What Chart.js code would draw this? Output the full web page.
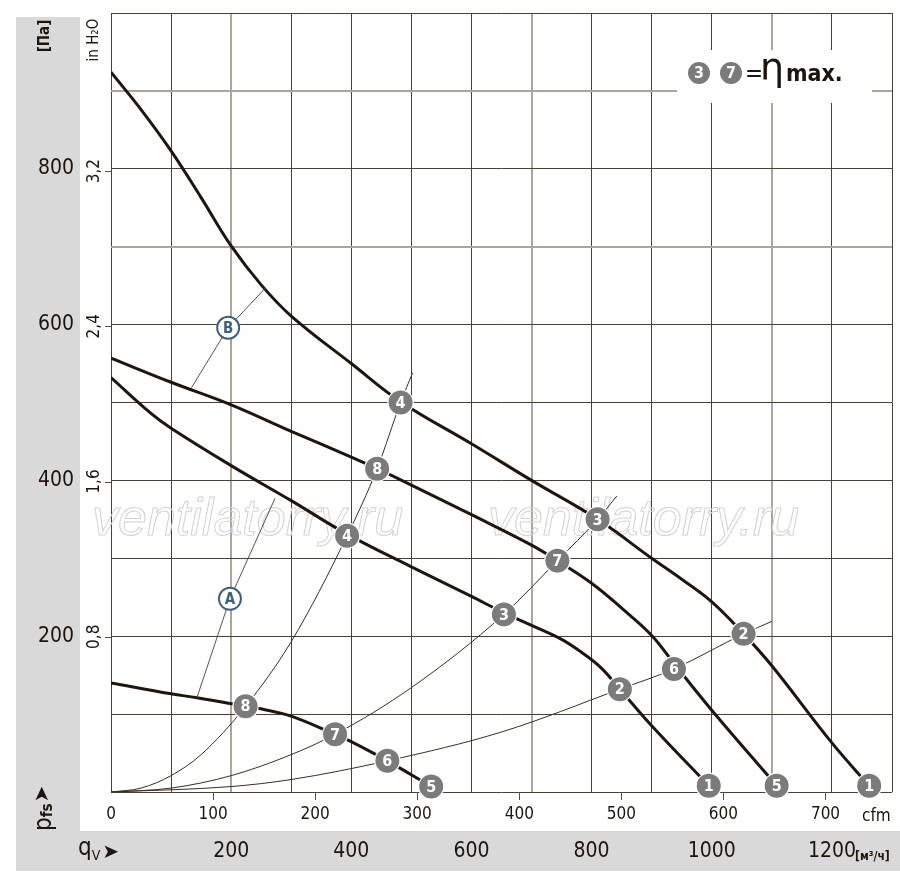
<!DOCTYPE html>
<html>
<head>
<meta charset="utf-8">
<script src="https://cdn.jsdelivr.net/npm/chart.js@4.4.1/dist/chart.umd.min.js"></script>
<style>
  html, body { margin: 0; padding: 0; background: #fff; }
  #wrap { width: 900px; height: 876px; }
</style>
</head>
<body>
<div id="wrap"><canvas id="fanChart" width="900" height="876"></canvas></div>
<script>
// airflow q in m3/h, static pressure p in Pa
var topCurveQ = [0, 50, 100, 150, 200, 250, 300, 400, 482, 600, 700, 810, 900, 950, 1000, 1053, 1100, 1200, 1262];
var topCurveP = [924, 876, 823, 763, 701, 651, 611, 550, 501, 447, 400, 350, 300, 273, 244, 203, 162, 63, 8];

var midCurveQ = [0, 100, 200, 300, 400, 443, 500, 600, 700, 743, 800, 850, 900, 937, 1000, 1108];
var midCurveP = [557, 526, 497, 463, 430, 415, 394, 356, 317, 297, 268, 236, 201, 165, 105, 8];

var lowCurveQ = [0, 65, 100, 200, 300, 393, 500, 600, 654, 700, 750, 782, 815, 847, 900, 995];
var lowCurveP = [532, 487, 467, 419, 374, 331, 289, 251, 230, 214, 196, 180, 160, 132, 85, 8];

var smallCurveQ = [0, 100, 143, 224, 260, 301, 373, 399, 460, 533];
var smallCurveP = [140, 126, 121, 110, 105, 97, 74, 65, 40, 7];

// system resistance lines
var sys8Q = [0, 50, 100, 150, 224, 300, 393, 443, 482, 502];
var sys8P = [0, 5, 21, 48, 110, 193, 329, 415, 500, 538];
var sys7Q = [0, 100, 200, 300, 373, 500, 654, 743, 810, 842];
var sys7P = [0, 5, 21, 48, 74, 134, 228, 297, 350, 380];
var sys6Q = [0, 200, 300, 460, 650, 847, 937, 1053, 1100];
var sys6P = [0, 7, 16, 40, 77, 132, 158, 203, 219];

// pointer lines A and B
var lineAQ = [143, 198, 273];
var lineAP = [121, 248, 377];
var lineBQ = [134, 195, 257];
var lineBP = [519, 596, 647];
var tagQ = [198, 195];
var tagP = [248, 596];
var tagText = ['A', 'B'];

// numbered operating points
var markerQ = [482, 810, 1053, 1262, 443, 743, 937, 1108, 393, 654, 847, 995, 224, 373, 460, 533];
var markerP = [500, 350, 203, 8, 415, 297, 158, 8, 329, 228, 132, 8, 110, 74, 40, 7];
var markerNum = ['4', '3', '2', '1', '8', '7', '6', '5', '4', '3', '2', '1', '8', '7', '6', '5'];

// axis labels
var paTicks = [200, 400, 600, 800];
var inH2OTicks = [0.8, 1.6, 2.4, 3.2];
var inH2OText = ['0,8', '1,6', '2,4', '3,2'];
var cfmTicks = [0, 100, 200, 300, 400, 500, 600, 700];
var m3hTicks = [200, 400, 600, 800, 1000, 1200];

var lightQ = [200, 700, 1100];
var lightP = [700, 900];

var FONT = '"Liberation Sans Narrow", "DejaVu Sans Condensed", "Liberation Sans", sans-serif';
function fnt(size, bold) {
  return (bold ? 'bold ' : '') + size + 'px ' + FONT;
}

function pts(qs, ps) {
  var out = [];
  for (var i = 0; i < qs.length; i++) out.push({x: qs[i], y: ps[i]});
  return out;
}

function thick(qs, ps) {
  return { data: pts(qs, ps), borderColor: '#21150b', borderWidth: 3, pointRadius: 0,
           showLine: true, tension: 0.4, fill: false };
}
function thin(qs, ps, col, smooth) {
  return { data: pts(qs, ps), borderColor: col, borderWidth: 1, pointRadius: 0,
           showLine: true, cubicInterpolationMode: smooth ? 'monotone' : 'default', tension: 0, fill: false };
}

function grayBall(ctx, x, y, txt, r) {
  ctx.beginPath();
  ctx.arc(x, y, r + 1.2, 0, Math.PI * 2);
  ctx.fillStyle = '#ffffff';
  ctx.fill();
  ctx.beginPath();
  ctx.arc(x, y, r, 0, Math.PI * 2);
  ctx.fillStyle = '#7b7b7b';
  ctx.fill();
  ctx.fillStyle = '#ffffff';
  ctx.font = fnt(16, true);
  ctx.textAlign = 'center';
  ctx.textBaseline = 'middle';
  ctx.fillText(txt, x, y + 1);
}

var decor = {
  id: 'decor',
  beforeDraw: function(chart) {
    var ctx = chart.ctx;
    var xs = chart.scales.x, ys = chart.scales.y;
    ctx.save();
    ctx.fillStyle = '#ffffff';
    ctx.fillRect(0, 0, chart.width, chart.height);
    ctx.fillStyle = '#d9d9d9';
    ctx.fillRect(16, 17, 64, 814);
    ctx.fillRect(16, 831, 884, 40);

    ctx.fillStyle = '#1d140c';
    // Pa labels
    ctx.font = fnt(21);
    ctx.textAlign = 'right';
    ctx.textBaseline = 'middle';
    paTicks.forEach(function(v) {
      ctx.fillText(String(v), 74, ys.getPixelForValue(v));
    });
    // in H2O labels, rotated
    ctx.font = fnt(17);
    ctx.textAlign = 'center';
    inH2OTicks.forEach(function(v, i) {
      ctx.save();
      ctx.translate(95, ys.getPixelForValue(v * 249.09));
      ctx.rotate(-Math.PI / 2);
      ctx.fillText(inH2OText[i], 0, 0);
      ctx.restore();
    });
    // unit captions
    ctx.save();
    ctx.translate(45, 36);
    ctx.rotate(-Math.PI / 2);
    ctx.font = fnt(15, true);
    ctx.fillText('[Па]', 0, 0);
    ctx.restore();
    ctx.save();
    ctx.translate(94, 40);
    ctx.rotate(-Math.PI / 2);
    ctx.font = fnt(15);
    ctx.fillText('in H\u2082O', 0, 0);
    ctx.restore();

    // p_fs with arrow
    ctx.save();
    ctx.translate(51, 831);
    ctx.rotate(-Math.PI / 2);
    ctx.textAlign = 'left';
    ctx.textBaseline = 'alphabetic';
    ctx.font = fnt(24);
    ctx.fillText('p', 0, 0);
    var w = ctx.measureText('p').width;
    ctx.font = fnt(15, true);
    ctx.fillText('fs', w, 1);
    w += ctx.measureText('fs').width + 1;
    ctx.font = '20px "DejaVu Sans", sans-serif';
    ctx.fillText('\u27A4', w, -3);
    ctx.restore();

    // q_V with arrow
    ctx.textAlign = 'left';
    ctx.textBaseline = 'alphabetic';
    ctx.font = fnt(24);
    ctx.fillText('q', 78, 855);
    var qw = ctx.measureText('q').width;
    ctx.font = fnt(14);
    ctx.fillText('V', 78 + qw, 860);
    var vw = ctx.measureText('V').width;
    ctx.font = '20px "DejaVu Sans", sans-serif';
    ctx.fillText('\u27A4', 80 + qw + vw, 858);

    // m3/h labels
    ctx.font = fnt(21);
    ctx.textAlign = 'center';
    ctx.textBaseline = 'middle';
    m3hTicks.forEach(function(v) {
      ctx.fillText(String(v), xs.getPixelForValue(v), 852);
    });
    ctx.font = fnt(12, true);
    ctx.textAlign = 'left';
    ctx.fillText('[м\u00B3/ч]', 855, 857);

    // cfm labels
    ctx.font = fnt(17);
    ctx.textAlign = 'center';
    cfmTicks.forEach(function(v) {
      ctx.fillText(String(v), xs.getPixelForValue(v * 1.699), 815);
    });
    ctx.textAlign = 'left';
    ctx.fillText('cfm', 862, 817);
    ctx.restore();
  },
  beforeDatasetsDraw: function(chart) {
    var ctx = chart.ctx;
    ctx.save();
    // watermark
    ctx.font = 'italic 52px "Liberation Sans", sans-serif';
    ctx.strokeStyle = '#d2d2d2';
    ctx.lineWidth = 1;
    ctx.textAlign = 'left';
    ctx.textBaseline = 'alphabetic';
    ctx.strokeText('ventilatorry.ru', 92, 535);
    ctx.strokeText('ventilatorry.ru', 488, 535);

    // legend box
    ctx.fillStyle = '#ffffff';
    ctx.fillRect(677, 50, 195, 53);
    grayBall(ctx, 699, 73, '3', 11);
    grayBall(ctx, 731, 73, '7', 11);
    ctx.fillStyle = '#1d140c';
    ctx.textAlign = 'left';
    ctx.textBaseline = 'alphabetic';
    ctx.font = fnt(24);
    ctx.fillText('=', 745, 81);
    ctx.font = '38px "DejaVu Sans", sans-serif';
    ctx.fillText('\u03B7', 760, 80);
    ctx.font = fnt(23, true);
    ctx.fillText('max.', 786, 81);
    ctx.restore();
  },
  afterDatasetsDraw: function(chart) {
    var ctx = chart.ctx;
    var xs = chart.scales.x, ys = chart.scales.y;
    ctx.save();
    // small tick marks
    ctx.strokeStyle = '#5a4f44';
    ctx.lineWidth = 1;
    cfmTicks.forEach(function(v) {
      if (v === 0) return;
      var x = Math.round(xs.getPixelForValue(v * 1.699)) + 0.5;
      ctx.beginPath();
      ctx.moveTo(x, ys.bottom);
      ctx.lineTo(x, ys.bottom + 8);
      ctx.stroke();
    });
    inH2OTicks.forEach(function(v) {
      var y = Math.round(ys.getPixelForValue(v * 249.09)) + 0.5;
      ctx.beginPath();
      ctx.moveTo(xs.left - 6, y);
      ctx.lineTo(xs.left, y);
      ctx.stroke();
    });

    // A / B tags
    tagText.forEach(function(t, i) {
      var x = xs.getPixelForValue(tagQ[i]), y = ys.getPixelForValue(tagP[i]);
      ctx.beginPath();
      ctx.arc(x, y, 11, 0, Math.PI * 2);
      ctx.fillStyle = '#ffffff';
      ctx.fill();
      ctx.lineWidth = 2;
      ctx.strokeStyle = '#3f5f7d';
      ctx.stroke();
      ctx.fillStyle = '#3f5f7d';
      ctx.font = fnt(15, true);
      ctx.textAlign = 'center';
      ctx.textBaseline = 'middle';
      ctx.fillText(t, x, y + 1);
    });

    // numbered points
    markerNum.forEach(function(n, i) {
      grayBall(ctx, xs.getPixelForValue(markerQ[i]), ys.getPixelForValue(markerP[i]), n, 12);
    });
    ctx.restore();
  }
};

var ctx = document.getElementById('fanChart').getContext('2d');
var fanChart = new Chart(ctx, {
  type: 'scatter',
  data: {
    datasets: [
      thin(sys8Q, sys8P, '#3a2e22', true),
      thin(sys7Q, sys7P, '#3a2e22', true),
      thin(sys6Q, sys6P, '#3a2e22', true),
      thin(lineAQ, lineAP, '#5c5349', false),
      thin(lineBQ, lineBP, '#5c5349', false),
      thick(topCurveQ, topCurveP),
      thick(midCurveQ, midCurveP),
      thick(lowCurveQ, lowCurveP),
      thick(smallCurveQ, smallCurveP)
    ]
  },
  options: {
    responsive: false,
    animation: false,
    layout: { padding: { left: 111, top: 13, right: 8, bottom: 84 } },
    plugins: { legend: { display: false }, tooltip: { enabled: false } },
    scales: {
      x: {
        type: 'linear', min: 0, max: 1300,
        ticks: { display: false, stepSize: 100 },
        border: { display: false },
        grid: {
          drawTicks: false,
          color: function(c) { return c.tick && lightQ.indexOf(c.tick.value) >= 0 ? '#aba59c' : '#4a3f33'; },
          lineWidth: function(c) { return c.tick && lightQ.indexOf(c.tick.value) >= 0 ? 2 : 1; }
        }
      },
      y: {
        type: 'linear', min: 0, max: 1000,
        ticks: { display: false, stepSize: 100 },
        border: { display: false },
        grid: {
          drawTicks: false,
          color: function(c) { return c.tick && lightP.indexOf(c.tick.value) >= 0 ? '#aba59c' : '#4a3f33'; },
          lineWidth: function(c) { return c.tick && lightP.indexOf(c.tick.value) >= 0 ? 2 : 1; }
        }
      }
    }
  },
  plugins: [decor]
});
</script>
</body>
</html>
